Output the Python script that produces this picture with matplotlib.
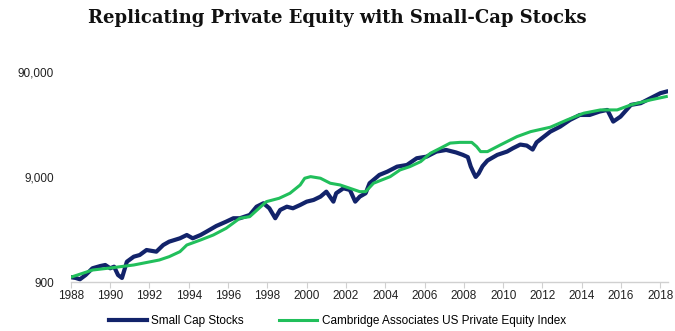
import matplotlib
matplotlib.use("Agg")
import matplotlib.pyplot as plt
from matplotlib.ticker import FixedLocator, FuncFormatter

# Growth of $1,000 (log scale)
small_cap_years = [
    1988.0, 1988.25, 1988.46, 1988.75, 1989.1, 1989.5, 1989.75, 1990.0, 1990.2,
    1990.4, 1990.6, 1990.85, 1991.2, 1991.5, 1991.85, 1992.35, 1992.7, 1993.0,
    1993.55, 1993.9, 1994.2, 1994.6, 1994.9, 1995.4, 1995.9, 1996.27, 1996.6,
    1997.1, 1997.45, 1997.8, 1998.1, 1998.4, 1998.65, 1998.99, 1999.3, 1999.67,
    2000.0, 2000.35, 2000.7, 2001.0, 2001.36, 2001.5, 2001.87, 2002.2, 2002.47,
    2002.7, 2003.0, 2003.2, 2003.7, 2004.1, 2004.6, 2005.1, 2005.6, 2006.1,
    2006.6, 2007.1, 2007.6, 2007.95, 2008.2, 2008.35, 2008.5, 2008.6, 2008.75,
    2008.95, 2009.2, 2009.7, 2010.2, 2010.5, 2010.87, 2011.2, 2011.5, 2011.7,
    2012.4, 2012.9, 2013.4, 2013.9, 2014.4, 2014.9, 2015.3, 2015.6, 2015.97,
    2016.5, 2017.0, 2017.5, 2018.0, 2018.3,
]
small_cap_values = [
    1000, 983, 955, 1049, 1216, 1278, 1307, 1216, 1259,
    1049, 983, 1405, 1568, 1626, 1815, 1750, 2025, 2179,
    2346, 2522, 2346, 2522, 2712, 3072, 3377, 3641, 3641,
    3911, 4690, 5056, 4530, 3641, 4367, 4690, 4530, 4870,
    5238, 5435, 5843, 6520, 5238, 6297, 7020, 6765, 5238,
    5843, 6297, 7840, 9410, 10100, 11280, 11700, 13560, 14040,
    15680, 16260, 15400, 14600, 13900, 11300, 9800, 9000, 9700,
    11400, 12900, 14600, 15700, 16900, 18300, 17900, 16400, 19200,
    24300, 27120, 31400, 35020, 35020, 37690, 39100, 30270, 33750,
    43650, 45310, 50580, 56430, 58400,
]

pe_years = [
    1988.0, 1989.1, 1990.0, 1991.2, 1992.5, 1993.0, 1993.55, 1993.9, 1994.6,
    1995.25, 1995.9, 1996.6, 1997.1, 1997.95, 1998.6, 1999.15, 1999.67, 1999.9,
    2000.2, 2000.7, 2001.2, 2001.7, 2002.2, 2002.7, 2003.0, 2003.4, 2004.25,
    2004.75, 2005.25, 2005.8, 2006.3, 2006.8, 2007.3, 2007.8, 2008.4, 2008.65,
    2008.85, 2009.2, 2009.86, 2010.7, 2011.4, 2012.4, 2013.25, 2014.1, 2014.95,
    2015.8, 2016.5, 2017.5, 2018.3,
]
pe_values = [
    1000, 1170, 1224, 1307, 1458, 1568, 1750, 2025, 2261,
    2522, 2921, 3641, 3769, 5238, 5640, 6297, 7550, 8750,
    9060, 8750, 7840, 7550, 7020, 6520, 6520, 7840, 9060,
    10490, 11280, 12590, 15140, 16890, 18900, 19200, 19200, 17490,
    15680, 15680, 18160, 21780, 24300, 26770, 31400, 36400, 39100,
    39100, 43650, 48700, 52400,
]

y_ticks = [900, 9000, 90000]
x_ticks = list(range(1988, 2019, 2))

navy = "#12236a"
green = "#21bf5b"

fig = plt.figure(figsize=(6.75, 3.31), dpi=100)
ax = fig.add_axes([0.105, 0.148, 0.885, 0.665])

ax.plot(small_cap_years, small_cap_values, color=navy, lw=3.0,
        solid_joinstyle="round", label="Small Cap Stocks")
ax.plot(pe_years, pe_values, color=green, lw=2.2,
        solid_joinstyle="round", label="Cambridge Associates US Private Equity Index")

ax.set_yscale("log")
ax.set_ylim(900, 112000)
ax.set_xlim(1988, 2018.4)

ax.yaxis.set_major_locator(FixedLocator(y_ticks))
ax.yaxis.set_minor_locator(FixedLocator([]))
ax.yaxis.set_major_formatter(FuncFormatter(lambda v, p: f"{int(round(v)):,}"))
ax.set_xticks(x_ticks)
ax.set_xticklabels([str(y) for y in x_ticks])

for s in ("top", "right", "left"):
    ax.spines[s].set_visible(False)
ax.spines["bottom"].set_color("#d0d0d0")
ax.spines["bottom"].set_linewidth(1.0)

ax.tick_params(axis="y", length=0, pad=12, labelsize=8.5, labelcolor="#222222")
ax.tick_params(axis="x", length=4, color="#d0d0d0", pad=2, labelsize=8.5,
               labelcolor="#222222")
for lab in ax.get_xticklabels() + ax.get_yticklabels():
    lab.set_family("Liberation Sans")

fig.text(0.5, 0.945, "Replicating Private Equity with Small-Cap Stocks",
         ha="center", va="center", fontsize=13, fontweight="bold",
         family="DejaVu Serif", color="#111111")

fig.legend(loc="center", bbox_to_anchor=(0.5, 0.03), ncol=2, frameon=False,
           prop={"family": "Liberation Sans", "size": 8.5}, handlelength=3.2,
           columnspacing=3.0, handletextpad=0.4)

fig.savefig("out.png", dpi=100, facecolor="white")
